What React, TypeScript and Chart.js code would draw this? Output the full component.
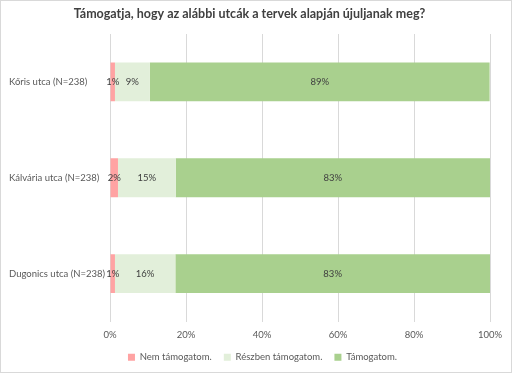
import React, { useEffect, useRef } from "react";
import { Chart, registerables } from "chart.js";

Chart.register(...registerables);

const categories = ["Kőris utca (N=238)", "Kálvária utca (N=238)", "Dugonics utca (N=238)"];
const seriesNames = ["Nem támogatom.", "Részben támogatom.", "Támogatom."];
const nemValues = [1.3, 2.1, 1.3];
const reszbenValues = [9.2, 15.2, 15.9];
const tamogatomValues = [89.4, 82.7, 82.8];
const xTicks = [0, 20, 40, 60, 80, 100];

const FONT = "Lato, 'Open Sans', sans-serif";

const labelPlugin = {
  id: "segLabels",
  afterDatasetsDraw(chart: any) {
    const ctx = chart.ctx;
    ctx.save();
    ctx.font = `9.5px ${FONT}`;
    ctx.fillStyle = "#404040";
    ctx.textAlign = "center";
    ctx.textBaseline = "middle";
    chart.data.datasets.forEach((ds: any, di: number) => {
      const meta = chart.getDatasetMeta(di);
      meta.data.forEach((el: any, i: number) => {
        const v = ds.data[i];
        const cx = (el.x + el.base) / 2;
        ctx.fillText(Math.round(v) + "%", cx, el.y);
      });
    });
    ctx.restore();
  },
};

const borderPlugin = {
  id: "outerBorder",
  afterLayout(chart: any) {
    if (chart.legend) {
      chart.legend.left += 13;
      chart.legend.right += 13;
    }
  },
  afterDraw(chart: any) {
    const ctx = chart.ctx;
    ctx.save();
    ctx.strokeStyle = "#D9D9D9";
    ctx.lineWidth = 1;
    ctx.strokeRect(0.5, 0.5, chart.width - 1, chart.height - 1);
    ctx.restore();
  },
};

export default function App() {
  const ref = useRef<HTMLCanvasElement | null>(null);
  useEffect(() => {
    document.body.style.margin = "0";
    const canvas = ref.current!;
    const chart = new Chart(canvas, {
      type: "bar",
      data: {
        labels: categories,
        datasets: [
          { label: seriesNames[0], data: nemValues, backgroundColor: "#FFA3A3" },
          { label: seriesNames[1], data: reszbenValues, backgroundColor: "#E2EFDA" },
          { label: seriesNames[2], data: tamogatomValues, backgroundColor: "#A9D08E" },
        ],
      },
      options: {
        indexAxis: "y",
        responsive: false,
        animation: false,
        devicePixelRatio: 1,
        layout: { padding: { left: 9, right: 22, top: 0, bottom: 1 } },
        datasets: {
          bar: { barPercentage: 0.405, categoryPercentage: 1, borderWidth: 0 },
        },
        scales: {
          x: {
            stacked: true,
            min: 0,
            max: 100,
            afterBuildTicks: (axis: any) => {
              axis.ticks = xTicks.map((v) => ({ value: v }));
            },
            afterFit: (axis: any) => {
              axis.height = 19;
            },
            ticks: {
              callback: (v: any) => v + "%",
              color: "#595959",
              font: { family: FONT, size: 9.5 },
              padding: 8,
              maxRotation: 0,
            },
            grid: { color: "#D9D9D9", drawTicks: false },
            border: { display: false },
          },
          y: {
            stacked: true,
            afterFit: (axis: any) => {
              axis.width = 101;
            },
            ticks: {
              color: "#595959",
              font: { family: FONT, size: 9.5 },
              crossAlign: "far",
              padding: 2,
            },
            grid: { display: false },
            border: { display: false },
          },
        },
        plugins: {
          title: {
            display: true,
            text: "Támogatja, hogy az alábbi utcák a tervek alapján újuljanak meg?",
            color: "#404040",
            font: { family: FONT, size: 12.5, weight: "bold" },
            padding: { top: 6, bottom: 13 },
          },
          legend: {
            position: "bottom",
            labels: {
              boxWidth: 7,
              boxHeight: 7,
              color: "#595959",
              font: { family: FONT, size: 9.5 },
              padding: 12,
            },
          },
          tooltip: { enabled: false },
        },
      },
      plugins: [labelPlugin, borderPlugin],
    });
    return () => chart.destroy();
  }, []);
  return <canvas ref={ref} width={512} height={373} style={{ display: "block" }} />;
}
